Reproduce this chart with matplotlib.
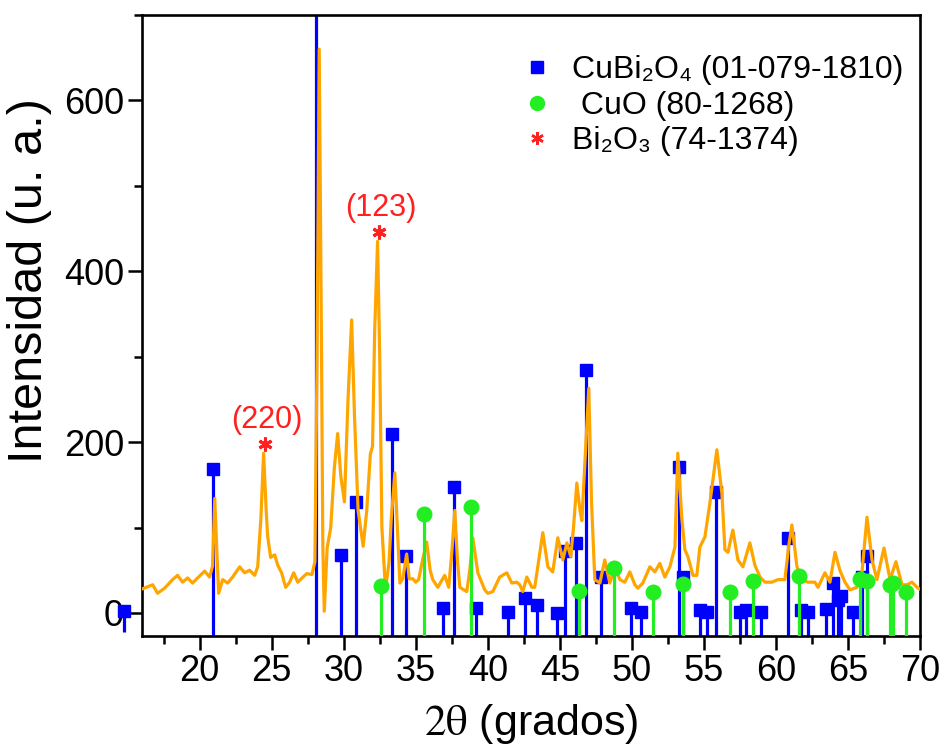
import matplotlib
matplotlib.use('Agg')
import matplotlib.pyplot as plt
from matplotlib.lines import Line2D
from matplotlib.ticker import MultipleLocator, FixedLocator
import matplotlib.transforms as mtransforms
import numpy as np

plt.rcParams['font.family'] = ['Liberation Sans', 'DejaVu Sans']
plt.rcParams['mathtext.fontset'] = 'stix'

# ---- measured XRD pattern (2theta in degrees, intensity in a.u.) ----
two_theta = [16.0, 16.74, 17.08, 17.57, 18.12, 18.47, 18.82, 19.17, 19.51, 19.86,
             20.35, 20.69, 20.9, 21.05, 21.2, 21.32, 21.6, 21.94, 22.29, 22.78,
             23.12, 23.47, 23.82, 24.03, 24.25, 24.44, 24.62, 24.72, 24.93, 25.21,
             25.42, 25.69, 25.97, 26.25, 26.53, 26.81, 27.43, 27.8, 28.0, 28.15,
             28.3, 28.45, 28.55, 28.65, 28.85, 29.1, 29.35, 29.58, 29.8, 30.05,
             30.3, 30.55, 30.75, 31.0, 31.35, 31.6, 31.85, 32.0, 32.15, 32.35,
             32.5, 32.65, 32.9, 33.15, 33.3, 33.55, 33.75, 33.9, 34.1, 34.37,
             34.55, 34.8, 35.0, 35.2, 35.45, 35.76, 36.0, 36.18, 36.53, 37.01,
             37.29, 37.5, 37.71, 37.9, 38.06, 38.54, 38.75, 38.96, 39.31, 39.79,
             40.0, 40.35, 40.83, 41.32, 41.67, 42.01, 42.22, 42.43, 42.71, 43.06,
             43.26, 43.47, 43.82, 44.17, 44.51, 44.86, 45.21, 45.49, 45.76, 45.95,
             46.18, 46.4, 46.53, 46.75, 47.01, 47.2, 47.43, 47.78, 48.12, 48.47,
             48.82, 49.17, 49.51, 49.86, 50.21, 50.42, 50.76, 51.25, 51.6, 51.94,
             52.29, 52.64, 52.99, 53.19, 53.47, 53.68, 53.89, 54.24, 54.51, 54.72,
             55.07, 55.42, 55.9, 56.25, 56.46, 56.67, 57.01, 57.36, 57.71, 58.19,
             58.54, 58.89, 59.24, 59.72, 60.14, 60.62, 60.9, 61.11, 61.46, 61.81,
             62.22, 62.71, 62.92, 63.4, 63.75, 64.1, 64.44, 64.79, 65.14, 65.62,
             65.97, 66.32, 66.67, 67.01, 67.5, 67.92, 68.33, 68.75, 69.1, 69.44,
             69.86, 70.0]
intensity = [28, 33, 23, 29, 39, 44, 36, 41, 35, 41,
             49, 42, 55, 134, 70, 23, 39, 35, 42, 54,
             47, 50, 44, 54, 110, 187, 120, 90, 65, 68,
             56, 47, 30, 36, 47, 36, 46, 45, 60, 300,
             660, 330, 80, 2, 76, 100, 170, 210, 160, 130,
             250, 343, 230, 120, 78, 120, 186, 195, 330, 435,
             300, 100, 27, 60, 110, 164, 90, 35, 40, 69,
             40, 40, 36, 39, 60, 83, 50, 39, 30, 44,
             30, 70, 120, 60, 30, 25, 50, 88, 47, 27,
             23, 25, 42, 47, 35, 36, 33, 25, 42, 30,
             30, 54, 94, 54, 48, 88, 62, 82, 66, 100,
             152, 120, 108, 180, 263, 130, 39, 35, 62, 35,
             54, 39, 36, 48, 33, 29, 35, 54, 48, 58,
             42, 54, 77, 187, 110, 74, 66, 44, 44, 77,
             89, 129, 191, 140, 74, 71, 97, 62, 54, 82,
             56, 42, 36, 36, 39, 39, 80, 103, 54, 39,
             36, 36, 30, 47, 36, 71, 50, 36, 27, 30,
             47, 112, 62, 39, 76, 39, 60, 33, 33, 36,
             29, 28]

# ---- reference patterns ----
cubi_pos = [14.72, 20.9, 28.06, 29.79, 30.83, 33.33, 34.31, 36.87, 37.64, 39.17,
            41.39, 42.57, 43.4, 44.79, 45.35, 46.11, 46.81, 47.85, 49.93, 50.62,
            53.26, 53.54, 54.72, 55.21, 55.83, 57.5, 57.92, 58.96, 60.83, 61.74,
            62.22, 63.47, 63.96, 64.31, 64.51, 65.35, 65.97, 66.32]
cubi_int = [2, 168, 1000, 68, 130, 209, 67, 6, 147, 6,
            1, 18, 9, 0, 72, 82, 284, 42, 6, 1,
            171, 42, 3, 1, 142, 1, 3, 1, 88, 3,
            1, 5, 35, 15, 20, 1, 42, 67]
cuo_pos = [32.57, 35.56, 38.82, 46.32, 48.75, 51.46, 53.54, 56.81, 58.4, 61.6,
           65.83, 66.32, 67.92, 68.15, 69.03]
cuo_int = [31, 116, 124, 26, 53, 25, 34, 25, 37, 43,
           40, 37, 33, 35, 24]
bi2o3_pos = [24.44, 32.35]
bi2o3_int = [187, 435]
bi2o3_hkl = ['(220)', '(123)']

x_ticks = [20, 25, 30, 35, 40, 45, 50, 55, 60, 65, 70]
y_ticks = [0, 200, 400, 600]
legend_labels = ['CuBi\u2082O\u2084 (01-079-1810)', ' CuO (80-1268)', 'Bi\u2082O\u2083 (74-1374)']

BLUE = '#0000FF'
GREEN = '#22EE22'
ORANGE = '#FFA500'
RED = '#FF2020'

fig = plt.figure(figsize=(9.45, 7.55), dpi=100)
ax = fig.add_axes([142/945, 1 - 636/755, 778/945, 621/755])
xmin, xmax = 16.0, 70.0
ymin, ymax = -27, 700
ax.set_xlim(xmin, xmax)
ax.set_ylim(ymin, ymax)

cubi_pos_a = np.array(cubi_pos)
cubi_int_a = np.array(cubi_int)
inside = cubi_pos_a >= xmin
ax.vlines(cubi_pos_a[inside], ymin, cubi_int_a[inside], color=BLUE, lw=2.3, zorder=2)
ax.plot(cubi_pos_a[inside], cubi_int_a[inside], 's', color=BLUE, ms=8.5, zorder=2)
ax.vlines(cubi_pos_a[~inside], ymin + 5, cubi_int_a[~inside], color=BLUE, lw=2.3,
          zorder=2, clip_on=False)
ax.plot(cubi_pos_a[~inside], cubi_int_a[~inside], 's', color=BLUE, ms=8.5, zorder=2,
        clip_on=False)

ax.plot(two_theta, intensity, color=ORANGE, lw=2.3, zorder=3)

ax.vlines(cuo_pos, ymin, cuo_int, color=GREEN, lw=2.3, zorder=4)
ax.plot(cuo_pos, cuo_int, 'o', color=GREEN, ms=10.5, zorder=4)

star_shift = mtransforms.ScaledTranslation(1/100, 9/100, fig.dpi_scale_trans)
for xp, yp, lab in zip(bi2o3_pos, bi2o3_int, bi2o3_hkl):
    ax.plot([xp], [yp], ls='none', marker=(6, 2, 0), color=RED, ms=10, mew=2.2,
            zorder=5, transform=ax.transData + star_shift)
    ax.annotate(lab, xy=(xp, yp), xytext=(2, 13), textcoords='offset points',
                ha='center', va='bottom', color=RED, fontsize=22)

ax.xaxis.set_major_locator(FixedLocator(x_ticks))
ax.xaxis.set_minor_locator(MultipleLocator(2.5))
ax.yaxis.set_major_locator(FixedLocator(y_ticks))
ax.yaxis.set_minor_locator(MultipleLocator(100))
ax.tick_params(which='major', direction='out', length=10, width=1.8, labelsize=26, pad=3)
ax.tick_params(which='minor', direction='out', length=6, width=1.8)
for s in ax.spines.values():
    s.set_linewidth(1.9)

ax.set_ylabel('Intensidad (u. a.)', fontsize=35)
ax.yaxis.set_label_coords(-0.116, 0.572)
ax.set_xlabel(r'$\mathrm{2\theta}$ (grados)', fontsize=31)
ax.xaxis.set_label_coords(0.5, -0.106)
ax.xaxis.label.set_va('top')

handles = [Line2D([], [], ls='none', marker='s', color=BLUE, ms=8),
           Line2D([], [], ls='none', marker='o', color=GREEN, ms=10),
           Line2D([], [], ls='none', marker=(6, 2, 0), color=RED, ms=9, mew=1.8)]
ax.legend(handles, legend_labels, loc='upper left',
          bbox_to_anchor=(524/945, 1 - 55/755), bbox_transform=fig.transFigure,
          frameon=False, fontsize=23, handlelength=0.8, handletextpad=0.7,
          borderpad=0, borderaxespad=0, labelspacing=0.18)

fig.savefig('out.png', dpi=100)
